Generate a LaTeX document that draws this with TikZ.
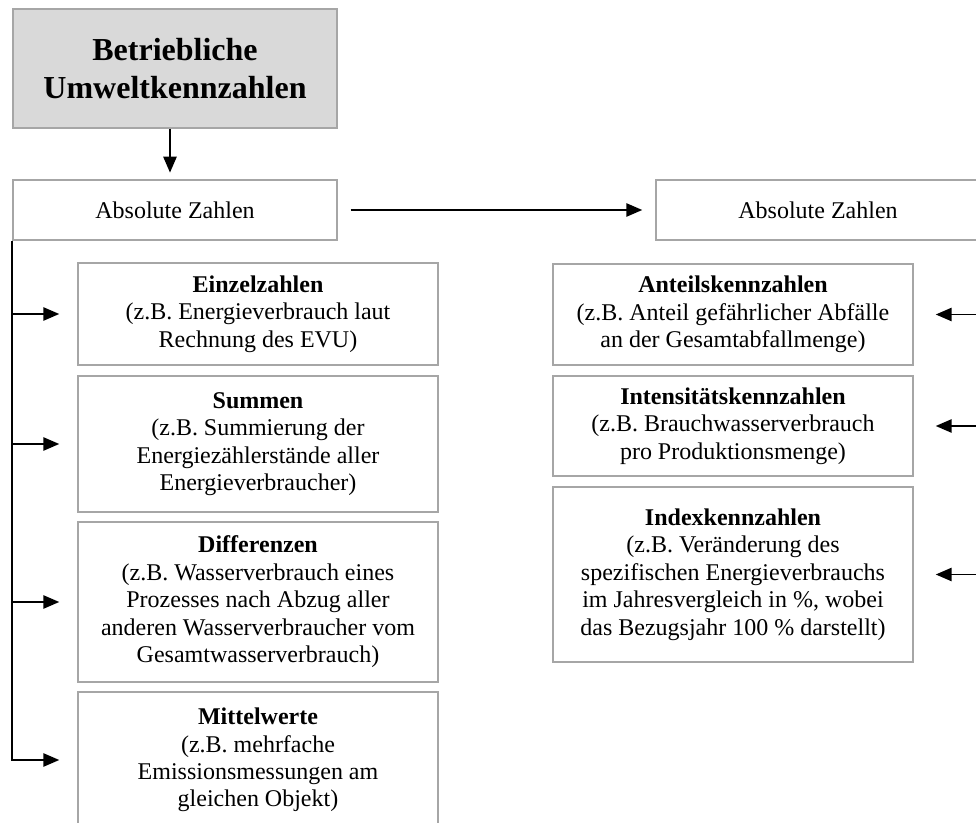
\documentclass[tikz,border=0pt]{standalone}
\usepackage{fontspec}
\setmainfont{Liberation Serif}
\usetikzlibrary{arrows.meta}

\definecolor{boxGray}{HTML}{A6A6A6}
\definecolor{headFill}{HTML}{D9D9D9}

\begin{document}
\begin{tikzpicture}[x=0.75pt,y=-0.75pt,
    every node/.style={align=center,inner sep=0pt,font=\fontsize{18}{20.6}\selectfont},
    kennBox/.style={draw=boxGray,line width=1.1pt,fill=white,minimum width=270pt},
    absBox/.style={kennBox,minimum width=243pt,minimum height=45pt},
    pfeil/.style={line width=1.3pt,-{Triangle[length=12pt,width=10pt]}}]
  % frame of the reference (the right and lower edge cut the drawing)
  \useasboundingbox (0,0) rectangle (976,823);
  \clip (0,0) rectangle (976,823);

  % head box
  \node[kennBox,fill=headFill,minimum width=243pt,minimum height=89.25pt,
        font=\fontsize{24}{29}\selectfont\bfseries] (topBox) at (175,68.5)
        {Betriebliche\\Umweltkennzahlen};

  % the two groups
  \node[absBox] (azLeft) at (175,210) {Absolute Zahlen};
  \node[absBox] (azRight) at (818,210) {Absolute Zahlen};

  % left column
  \node[kennBox,minimum height=76.5pt] (einzel) at (258,314)
        {\textbf{Einzelzahlen}\\(z.B. Energieverbrauch laut\\Rechnung des EVU)};
  \node[kennBox,minimum height=102pt] (summen) at (258,444)
        {\textbf{Summen}\\(z.B. Summierung der\\Energiezählerstände aller\\Energieverbraucher)};
  \node[kennBox,minimum height=120pt] (diff) at (258,602)
        {\textbf{Differenzen}\\(z.B. Wasserverbrauch eines\\Prozesses nach Abzug aller\\anderen Wasserverbraucher vom\\Gesamtwasserverbrauch)};
  \node[kennBox,minimum height=102pt] (mittel) at (258,760)
        {\textbf{Mittelwerte}\\(z.B. mehrfache\\Emissionsmessungen am\\gleichen Objekt)};

  % right column
  \node[kennBox,minimum height=75.75pt] (anteil) at (733,314.5)
        {\textbf{Anteilskennzahlen}\\(z.B. Anteil gefährlicher Abfälle\\an der Gesamtabfallmenge)};
  \node[kennBox,minimum height=75pt] (intens) at (733,426)
        {\textbf{Intensitätskennzahlen}\\(z.B. Brauchwasserverbrauch\\pro Produktionsmenge)};
  \node[kennBox,minimum height=131.25pt] (index) at (733,574.5)
        {\textbf{Indexkennzahlen}\\(z.B. Veränderung des\\spezifischen Energieverbrauchs\\im Jahresvergleich in \%, wobei\\das Bezugsjahr 100 \% darstellt)};

  % connectors
  \draw[pfeil,shorten >=5pt] ([xshift=-3.75pt]topBox.south) -- ([xshift=-3.75pt]azLeft.north);
  \draw[pfeil,shorten <=9.75pt,shorten >=9.75pt] (azLeft.east) -- (azRight.west);
  \draw[pfeil,shorten >=13.5pt] (azLeft.south west) |- (mittel.west);
  \foreach \ziel in {einzel,summen,diff}
    \draw[pfeil,shorten >=13.5pt] (azLeft.south west |- \ziel.west) -- (\ziel.west);
  \coordinate (rightBus) at (1000,0);
  \foreach \ziel in {anteil,intens,index}
    \draw[pfeil,shorten >=16.5pt] (rightBus |- \ziel.east) -- (\ziel.east);
\end{tikzpicture}
\end{document}
